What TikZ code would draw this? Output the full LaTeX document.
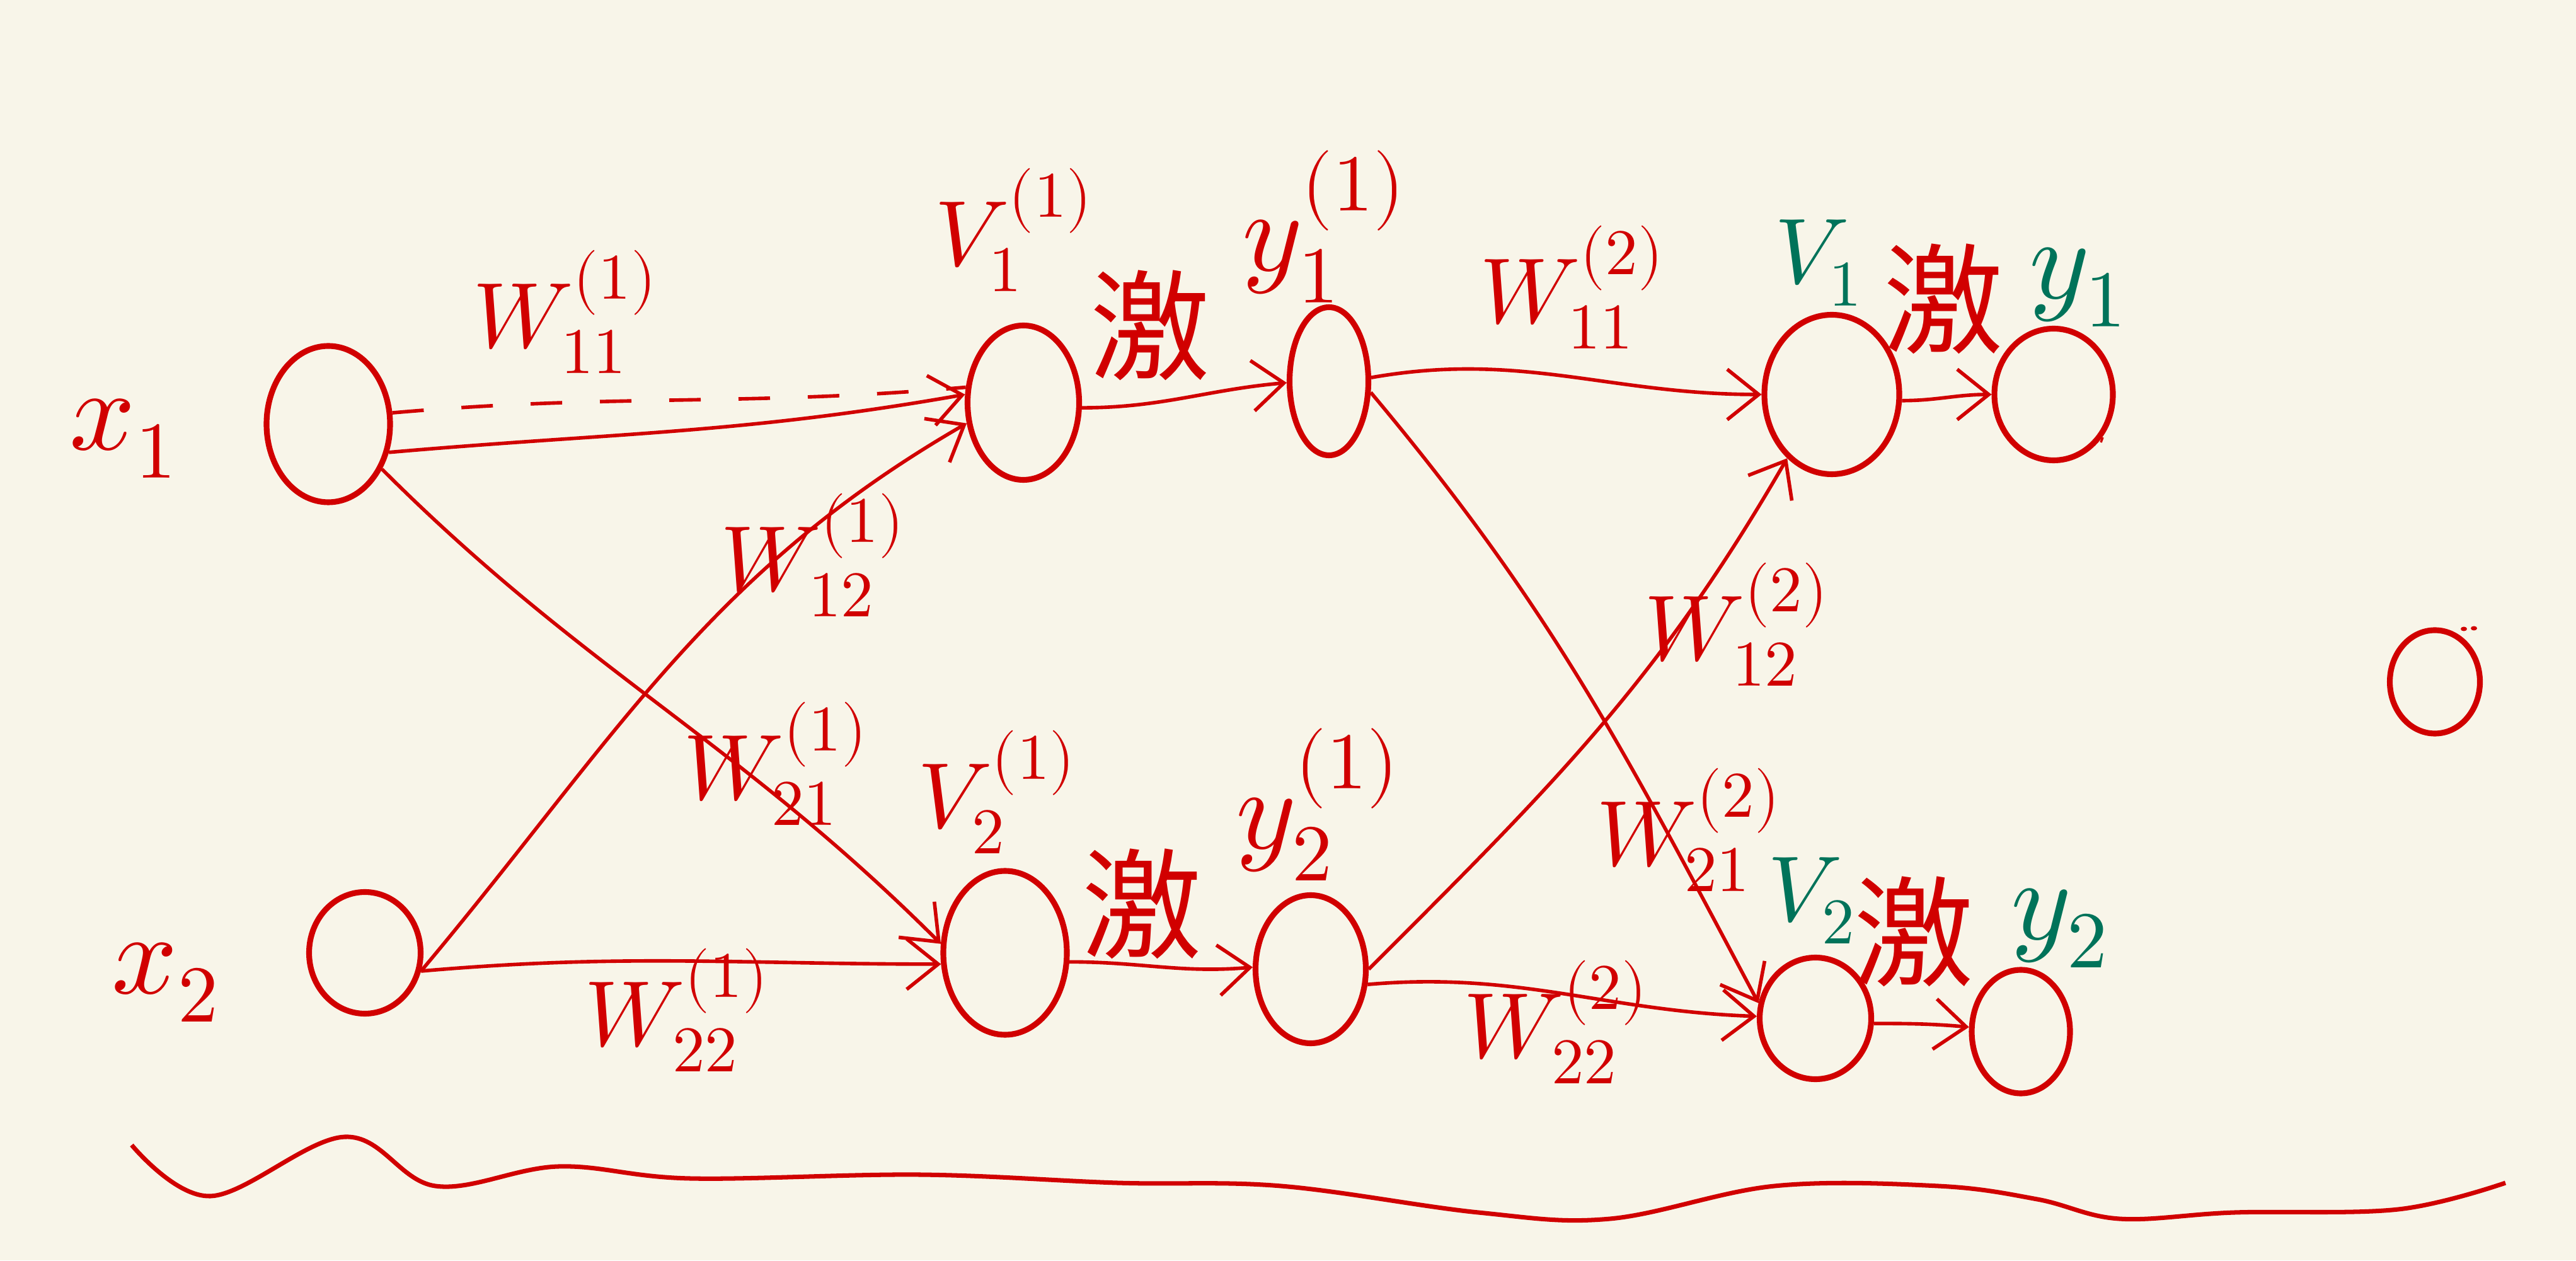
\documentclass[tikz,border=0pt]{standalone}
\usepackage{fontspec}
\usepackage{unicode-math}
\setmathfont{Latin Modern Math}
\newfontfamily\cjk{Noto Sans CJK SC}
\usepackage{tikz}
\usetikzlibrary{arrows.meta,positioning,shapes.geometric}
\definecolor{Paper}{HTML}{F8F5E9}
\definecolor{Ink}{HTML}{D10000}
\definecolor{Pine}{HTML}{00735A}

\begin{document}
\begin{tikzpicture}[
      neuron/.style={draw=Ink,ellipse,line width=2.6pt,inner sep=0pt},
      wire/.style={draw=Ink,line width=1.6pt},
      arr/.style={wire,-{Straight Barb[length=5mm,width=8mm,line width=1.6pt]}},
      lab/.style={text=Ink,inner sep=0pt,font=\fontsize{42}{46}\selectfont},
      big/.style={lab,font=\fontsize{52}{58}\selectfont},
      final/.style={text=Pine},
      act/.style={text=Ink,inner sep=0pt,font=\cjk\fontsize{54}{58}\selectfont}
    ]
      \useasboundingbox (0,0) rectangle (40.88,20);
      \fill[Paper] (0,0) rectangle (40.88,20);
      % neurons
      \node[neuron,minimum width=1.96cm,minimum height=2.48cm] (x1) at (5.21,13.27) {};
      \node[neuron,minimum width=1.77cm,minimum height=1.93cm] (x2) at (5.79,4.88) {};
      \node[neuron,minimum width=1.77cm,minimum height=2.45cm] (v11) at (16.24,13.61) {};
      \node[neuron,minimum width=1.96cm,minimum height=2.6cm] (v21) at (15.95,4.88) {};
      \node[neuron,minimum width=1.25cm,minimum height=2.35cm] (y11) at (21.09,13.95) {};
      \node[neuron,minimum width=1.75cm,minimum height=2.35cm] (y21) at (20.80,4.62) {};
      \node[neuron,minimum width=2.14cm,minimum height=2.53cm] (v1) at (29.07,13.74) {};
      \node[neuron,minimum width=1.88cm,minimum height=2.09cm] (y1) at (32.59,13.74) {};
      \node[neuron,minimum width=1.77cm,minimum height=1.93cm] (v2) at (28.81,3.84) {};
      \node[neuron,minimum width=1.56cm,minimum height=1.96cm] (y2) at (32.07,3.63) {};
      \node[neuron,minimum width=1.43cm,minimum height=1.64cm] (spare) at (38.64,9.18) {};
      % labels
      \node[big] (lx1) at (1.96,13.04) {$x_1$};
      \node[big] (lx2) at (2.63,4.41) {$x_2$};
      \node[lab] (lw111) at (8.97,15.05) {$W_{11}^{(1)}$};
      \node[lab] (lw121) at (12.90,11.19) {$W_{12}^{(1)}$};
      \node[lab] (lw211) at (12.31,7.88) {$W_{21}^{(1)}$};
      \node[lab] (lw221) at (10.74,3.97) {$W_{22}^{(1)}$};
      \node[lab] (lv11) at (16.09,16.35) {$V_1^{(1)}$};
      \node[big] (ly11) at (21.01,16.40) {$y_1^{(1)}$};
      \node[lab] (lv21) at (15.82,7.43) {$V_2^{(1)}$};
      \node[big] (ly21) at (20.91,7.23) {$y_2^{(1)}$};
      \node[lab] (lw112) at (24.95,15.44) {$W_{11}^{(2)}$};
      \node[lab] (lw122) at (27.56,10.09) {$W_{12}^{(2)}$};
      \node[lab] (lw212) at (26.80,6.83) {$W_{21}^{(2)}$};
      \node[lab] (lw222) at (24.69,3.78) {$W_{22}^{(2)}$};
      \node[lab,final] (lv1) at (28.86,15.83) {$V_1$};
      \node[big,final] (ly1) at (32.98,15.44) {$y_1$};
      \node[lab,final] (lv2) at (28.75,5.71) {$V_2$};
      \node[big,final] (ly2) at (32.69,5.27) {$y_2$};
      \node[act] (a11) at (18.25,14.84) {激};
      \node[act] (a21) at (18.12,5.66) {激};
      \node[act] (a12) at (30.84,15.26) {激};
      \node[act] (a22) at (30.37,5.22) {激};
      % first layer
      \draw[wire,dash pattern=on 5mm off 6mm] (x1.10) to[out=5,in=185] (v11.165);
      \draw[arr] (x1.-25) to[out=5,in=190] (v11.172);
      \draw[arr] (x2.-18) to[out=50,in=210] (v11.200);
      \draw[arr] (x1.-40) to[out=-45,in=135] (v21.172);
      \draw[arr] (x2.-18) to[out=5,in=180] (v21.190);
      \draw[arr] (v11.-5) to[out=0,in=185] (y11.182);
      \draw[arr] (v21.-8) to[out=0,in=185] (y21.178);
      % second layer
      \draw[arr] (y11.5) to[out=10,in=180] (v1.180);
      \draw[arr] (y11.-15) to[out=-50,in=118] (v2.165);
      \draw[arr] (y21.0) to[out=45,in=240] (v1.-125);
      \draw[arr] (y21.-15) to[out=5,in=178] (v2.178);
      \draw[arr] (v1.-5) to[out=0,in=180] (y1.180);
      \draw[arr] (v2.-5) to[out=0,in=175] (y2.175);
      % stray marks
      \fill[Ink] (39.10,10.02) ellipse (0.05 and 0.035);
      \fill[Ink] (39.26,10.03) ellipse (0.05 and 0.035);
      \draw[Ink,line width=1pt] (33.28,12.98) -- (33.30,13.06) (33.34,12.98) -- (33.37,13.06);
      % squiggle under the net
      \draw[wire,line width=2pt] plot[smooth,tension=0.6] coordinates {(2.09,1.83) (3.34,1.02)
        (5.47,1.96) (6.91,1.18) (8.86,1.49) (10.95,1.30) (14.60,1.36) (17.73,1.23)
        (20.33,1.18) (23.46,0.76) (25.55,0.66) (28.16,1.18) (30.76,1.18) (32.33,0.97)
        (33.63,0.66) (35.46,0.76) (38.06,0.81) (39.76,1.23)};
    \end{tikzpicture}
\end{document}
